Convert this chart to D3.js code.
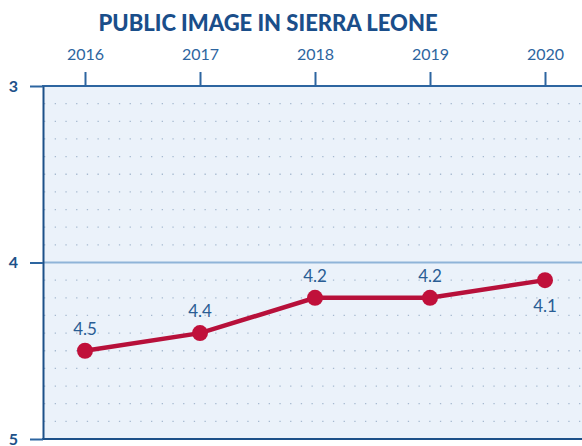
<!DOCTYPE html>
<html><head><meta charset="utf-8">
<script src="https://cdn.jsdelivr.net/npm/d3@7"></script>
<style>body{margin:0;background:#fff;}svg{display:block;}</style>
</head><body>
<svg id="c" width="582" height="446"></svg>
<script>
const years = [2016, 2017, 2018, 2019, 2020];
const values = [4.5, 4.4, 4.2, 4.2, 4.1];
const labels = ["4.5", "4.4", "4.2", "4.2", "4.1"];
const yTicks = [3, 4, 5];
const gridValues = [3.1,3.2,3.3,3.4,3.5,3.6,3.7,3.8,3.9,4.1,4.2,4.3,4.4,4.5,4.6,4.7,4.8,4.9];
const title = "PUBLIC IMAGE IN SIERRA LEONE";

const svg = d3.select("#c");
const mL = 43, mR = 582, mT = 86, mB = 439;
const x = d3.scaleLinear().domain([2016, 2020]).range([85, 545]);
const y = d3.scaleLinear().domain([3, 5]).range([mT, mB]);
const dark = "#1d5189", mid = "#2d65a0";

svg.append("rect").attr("x", mL).attr("y", mT).attr("width", mR - mL).attr("height", mB - mT).attr("fill", "#ebf2fa");

svg.append("g").selectAll("line").data(gridValues).join("line")
  .attr("x1", mL + 1).attr("x2", mR).attr("y1", d => y(d)).attr("y2", d => y(d))
  .attr("stroke", "#a6b9cf").attr("stroke-width", 1.3).attr("stroke-dasharray", "1.3,9.4");

svg.append("line").attr("x1", mL).attr("x2", mR).attr("y1", y(4)).attr("y2", y(4))
  .attr("stroke", "#8fb4d8").attr("stroke-width", 2);

svg.append("text").attr("x", 268).attr("y", 31).attr("text-anchor", "middle")
  .attr("font-family", "Lato, sans-serif").attr("font-weight", 900).attr("font-size", 22)
  .attr("fill", "#1a4e8a").text(title);

const xAxis = svg.append("g").attr("transform", `translate(0,${mT})`)
  .call(d3.axisTop(x).tickValues(years).tickFormat(d3.format("d")).tickSize(14).tickSizeOuter(0).tickPadding(12));
xAxis.select(".domain").remove();
xAxis.selectAll("line").attr("stroke", mid).attr("stroke-width", 2);
xAxis.selectAll("text").attr("font-family", "Lato, sans-serif").attr("font-size", 16).attr("fill", mid);

svg.append("line").attr("x1", mL - 1).attr("x2", mR).attr("y1", mT).attr("y2", mT).attr("stroke", mid).attr("stroke-width", 2);
svg.append("line").attr("x1", mL - 1).attr("x2", mR).attr("y1", mB).attr("y2", mB).attr("stroke", dark).attr("stroke-width", 2);

const yAxis = svg.append("g").attr("transform", `translate(${mL},0)`)
  .call(d3.axisLeft(y).tickValues(yTicks).tickFormat(d3.format("d")).tickSize(13).tickSizeOuter(0).tickPadding(12));
yAxis.select(".domain").attr("stroke", dark).attr("stroke-width", 2);
yAxis.selectAll("line").attr("stroke", mid).attr("stroke-width", 2);
yAxis.selectAll("text").attr("font-family", "Lato, sans-serif").attr("font-weight", 700).attr("font-size", 16).attr("fill", dark);

const line = d3.line().x((d, i) => x(years[i])).y(d => y(d));
svg.append("path").datum(values).attr("d", line).attr("fill", "none")
  .attr("stroke", "#b7103a").attr("stroke-width", 4.5);

svg.append("g").selectAll("circle").data(values).join("circle")
  .attr("cx", (d, i) => x(years[i])).attr("cy", d => y(d)).attr("r", 8).attr("fill", "#c0103a");

svg.append("g").selectAll("text").data(values).join("text")
  .attr("x", (d, i) => x(years[i]))
  .attr("y", (d, i) => i === values.length - 1 ? y(d) + 32 : y(d) - 16)
  .attr("text-anchor", "middle").attr("font-family", "Lato, sans-serif").attr("font-size", 17)
  .attr("fill", "#2a5d94").text((d, i) => labels[i]);
</script>
</body></html>
